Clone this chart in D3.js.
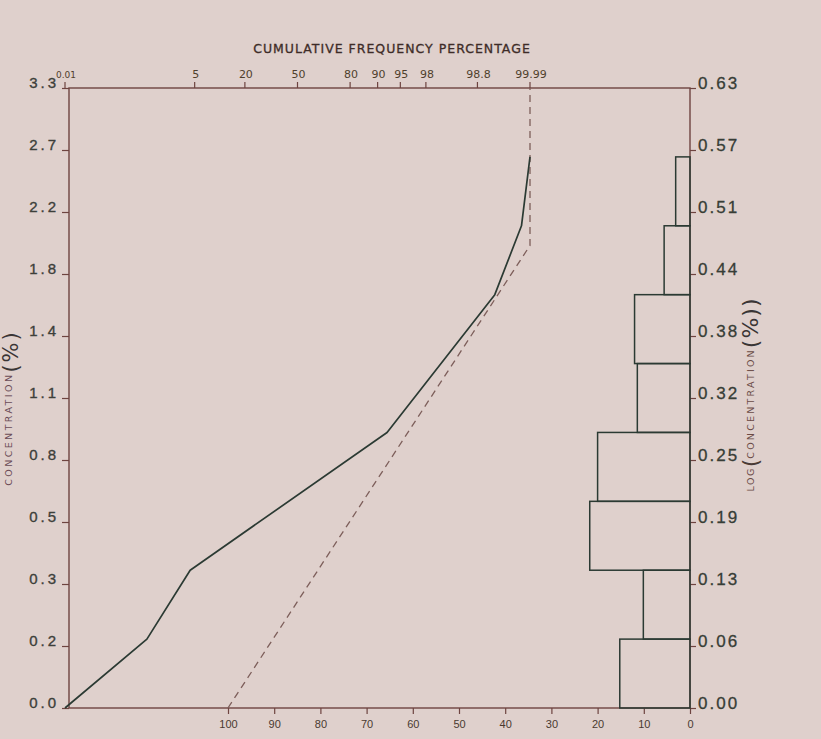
<!DOCTYPE html>
<html>
<head>
<meta charset="utf-8">
<script src="https://cdn.jsdelivr.net/npm/d3@7"></script>
<style>
  body { margin: 0; background: #dfd0cc; }
  svg { display: block; }
</style>
</head>
<body>
<div id="chart"></div>
<script>
// left axis: concentration (%) printed against the log ticks
const concLabels = ["0.0", "0.2", "0.3", "0.5", "0.8", "1.1", "1.4", "1.8", "2.2", "2.7", "3.3"];
// right axis: log(concentration)
const logTicks = [0, 0.063, 0.126, 0.189, 0.252, 0.315, 0.378, 0.441, 0.504, 0.567, 0.63];
const logLabels = ["0.00", "0.06", "0.13", "0.19", "0.25", "0.32", "0.38", "0.44", "0.51", "0.57", "0.63"];
// top axis: cumulative frequency percentage (probability scale)
const probTicks = [0.01, 5, 20, 50, 80, 90, 95, 98, 99.8, 99.99];
const probLabels = ["0.01", "5", "20", "50", "80", "90", "95", "98", "98.8", "99.99"];
// bottom axis: frequency percentage of the histogram
const freqTicks = [100, 90, 80, 70, 60, 50, 40, 30, 20, 10, 0];

// histogram of log(concentration)
const binEdges = [0, 0.07, 0.14, 0.21, 0.28, 0.35, 0.42, 0.49, 0.56];
const binFreq = [15.2, 10.1, 21.7, 20.0, 11.4, 12.0, 5.6, 3.1];

// observed cumulative curve
const cumPct = [0.01, 0.8, 4.3, 92.4, 99.92, 99.983, 99.99];
const cumLog = [0, 0.07, 0.14, 0.28, 0.42, 0.49, 0.56];

// fitted (dashed) line
const fitPct = [13.3, 99.99, 99.99];
const fitLog = [0, 0.47, 0.63];

const width = 821, height = 739;
const mLeft = 69, mRight = 690, mTop = 88, mBottom = 708;

// inverse normal cdf (Acklam)
function probit(p) {
  const a = [-39.6968302866538, 220.946098424521, -275.928510446969, 138.357751867269, -30.6647980661472, 2.50662827745924];
  const b = [-54.4760987982241, 161.585836858041, -155.698979859887, 66.8013118877197, -13.2806815528857];
  const c = [-0.00778489400243029, -0.322396458041136, -2.40075827716184, -2.54973253934373, 4.37466414146497, 2.93816398269878];
  const d = [0.00778469570904146, 0.32246712907004, 2.445134137143, 3.75440866190742];
  const pl = 0.02425;
  let q, r;
  if (p < pl) {
    q = Math.sqrt(-2 * Math.log(p));
    return (((((c[0]*q+c[1])*q+c[2])*q+c[3])*q+c[4])*q+c[5]) / ((((d[0]*q+d[1])*q+d[2])*q+d[3])*q+1);
  } else if (p > 1 - pl) {
    q = Math.sqrt(-2 * Math.log(1 - p));
    return -(((((c[0]*q+c[1])*q+c[2])*q+c[3])*q+c[4])*q+c[5]) / ((((d[0]*q+d[1])*q+d[2])*q+d[3])*q+1);
  }
  q = p - 0.5; r = q * q;
  return (((((a[0]*r+a[1])*r+a[2])*r+a[3])*r+a[4])*r+a[5])*q / (((((b[0]*r+b[1])*r+b[2])*r+b[3])*r+b[4])*r+1);
}

const xProbLin = d3.scaleLinear().domain([probit(0.0001), probit(0.9999)]).range([65, 530]);
const xProb = pct => xProbLin(probit(pct / 100));
const xFreq = d3.scaleLinear().domain([0, 100]).range([mRight, 228]);
const y = d3.scaleLinear().domain([0, 0.63]).range([mBottom, mTop]);

const axisColor = "#6e4440";
const inkColor = "#2b3a33";

const svg = d3.select("#chart").append("svg")
  .attr("width", width)
  .attr("height", height)
  .style("font-family", "'DejaVu Sans', sans-serif");

svg.append("rect").attr("width", width).attr("height", height).attr("fill", "#dfd0cc");

// frame
svg.append("rect")
  .attr("x", mLeft).attr("y", mTop)
  .attr("width", mRight - mLeft).attr("height", mBottom - mTop)
  .attr("fill", "none").attr("stroke", axisColor).attr("stroke-width", 1.4);

// left axis
const gLeft = svg.append("g").attr("transform", `translate(${mLeft},0)`)
  .call(d3.axisLeft(y).tickValues(logTicks).tickFormat((d, i) => concLabels[i]).tickSize(7).tickPadding(6).tickSizeOuter(0));
gLeft.select(".domain").remove();
gLeft.selectAll("line").attr("stroke", axisColor).attr("stroke-width", 1.2);
gLeft.selectAll("text")
  .attr("dy", "-0.05em")
  .attr("x", -10)
  .style("font-size", "15px").style("letter-spacing", "3px")
  .attr("fill", "#3d3f3a")
  .attr("stroke", "#3d3f3a").attr("stroke-width", 0.35);

// right axis
const gRight = svg.append("g").attr("transform", `translate(${mRight},0)`)
  .call(d3.axisRight(y).tickValues(logTicks).tickFormat((d, i) => logLabels[i]).tickSize(6).tickPadding(2).tickSizeOuter(0));
gRight.select(".domain").remove();
gRight.selectAll("line").attr("stroke", axisColor).attr("stroke-width", 1.2);
gRight.selectAll("text")
  .attr("dy", "0.02em")
  .style("font-size", "17px").style("letter-spacing", "2px")
  .attr("fill", "#373d36")
  .attr("stroke", "#373d36").attr("stroke-width", 0.3);

// top axis (probability)
const gTop = svg.append("g").attr("transform", `translate(0,${mTop})`);
gTop.selectAll("line").data(probTicks).join("line")
  .attr("x1", d => xProb(d)).attr("x2", d => xProb(d))
  .attr("y1", 0).attr("y2", -6)
  .attr("stroke", axisColor).attr("stroke-width", 1.2);
gTop.selectAll("text").data(probTicks).join("text")
  .attr("x", d => xProb(d) + 1)
  .attr("y", -10)
  .attr("text-anchor", "middle")
  .style("font-size", d => d === 0.01 ? "9px" : "11px")
  .attr("fill", "#4f3f2c")
  .text((d, i) => probLabels[i]);

svg.append("text")
  .attr("x", 392).attr("y", 53)
  .attr("text-anchor", "middle")
  .style("font-size", "12.5px").style("letter-spacing", "1px")
  .attr("fill", "#3e2c28")
  .attr("stroke", "#3e2c28").attr("stroke-width", 0.3)
  .text("CUMULATIVE FREQUENCY PERCENTAGE");

// bottom axis (frequency %)
const gBottom = svg.append("g").attr("transform", `translate(0,${mBottom})`)
  .call(d3.axisBottom(xFreq).tickValues(freqTicks).tickSize(6).tickPadding(6).tickSizeOuter(0));
gBottom.select(".domain").remove();
gBottom.selectAll("line").attr("stroke", axisColor).attr("stroke-width", 1.2);
gBottom.selectAll("text")
  .style("font-size", "11px")
  .attr("fill", "#4a3a30");

// histogram
svg.append("g").selectAll("rect").data(binFreq).join("rect")
  .attr("x", d => xFreq(d))
  .attr("y", (d, i) => y(binEdges[i + 1]))
  .attr("width", d => xFreq(0) - xFreq(d))
  .attr("height", (d, i) => y(binEdges[i]) - y(binEdges[i + 1]))
  .attr("fill", "none")
  .attr("stroke", inkColor)
  .attr("stroke-width", 1.5);

// fitted dashed line
svg.append("path")
  .datum(fitPct.map((p, i) => [p, fitLog[i]]))
  .attr("d", d3.line().x(d => xProb(d[0])).y(d => y(d[1])))
  .attr("fill", "none")
  .attr("stroke", "#7d5e5a")
  .attr("stroke-width", 1.3)
  .attr("stroke-dasharray", "7,5");

// observed cumulative curve
svg.append("path")
  .datum(cumPct.map((p, i) => [p, cumLog[i]]))
  .attr("d", d3.line().x(d => xProb(d[0])).y(d => y(d[1])))
  .attr("fill", "none")
  .attr("stroke", inkColor)
  .attr("stroke-width", 1.7)
  .attr("stroke-linejoin", "round");

// left title
const tLeft = svg.append("text")
  .attr("transform", "translate(12,408) rotate(-90)")
  .attr("text-anchor", "middle")
  .attr("fill", "#6a4a55");
tLeft.append("tspan").style("font-size", "9.5px").style("letter-spacing", "2.4px").text("CONCENTRATION");
tLeft.append("tspan").attr("dy", 6).style("font-size", "21px").style("letter-spacing", "2px").attr("fill", "#3a3535").text("(%)");

// right title
const tRight = svg.append("text")
  .attr("transform", "translate(754,395) rotate(-90)")
  .attr("text-anchor", "middle")
  .attr("fill", "#6a4a45");
tRight.append("tspan").style("font-size", "9.5px").style("letter-spacing", "1.5px").text("LOG");
tRight.append("tspan").attr("dy", 4).style("font-size", "22px").attr("fill", "#4a3a35").text("(");
tRight.append("tspan").attr("dy", -4).style("font-size", "9.5px").style("letter-spacing", "2.2px").text("CONCENTRATION");
tRight.append("tspan").attr("dy", 4).style("font-size", "22px").style("letter-spacing", "1px").attr("fill", "#3a3535").text("(%)");
tRight.append("tspan").style("font-size", "22px").attr("fill", "#3a3535").text(")");
</script>
</body>
</html>
